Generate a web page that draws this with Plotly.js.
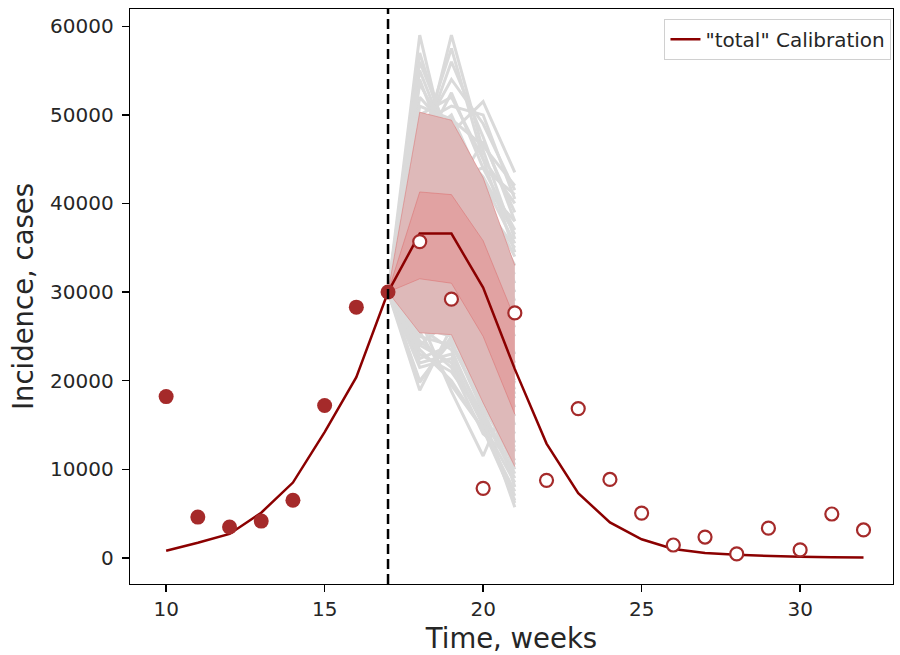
<!DOCTYPE html>
<html><head><meta charset="utf-8">
<script src="https://cdn.plot.ly/plotly-3.0.1.min.js"></script>
<style>html,body{margin:0;padding:0;background:#fff}</style>
</head><body><div id="chart" style="width:900px;height:655px"></div>
<script>
// Model ("total" calibration) curve
const modelWeeks = [10,11,12,13,14,15,16,17,18,19,20,21,22,23,24,25,26,27,28,29,30,31,32];
const modelValues = [800,1700,2700,5100,8500,14200,20400,30000,36600,36600,30500,21300,12900,7300,4000,2100,1000,560,340,200,120,80,50];

// Observed data used for calibration (filled markers)
const fittedWeeks = [10,11,12,13,14,15,16,17];
const fittedCases = [18200,4600,3480,4150,6500,17200,28300,30000];

// Observed data after the cutoff (open markers)
const futureWeeks = [18,19,20,21,22,23,24,25,26,27,28,29,30,31,32];
const futureCases = [35700,29200,7850,27650,8750,16850,8850,5050,1450,2350,450,3350,900,4950,3150];

// Forecast uncertainty bands
const forecastWeeks = [17,18,19,20,21];
const outerLow  = [30000,25400,25200,17500,10300];
const outerHigh = [30000,50300,49400,42900,33000];
const innerLow  = [30000,31500,31000,25000,16200];
const innerHigh = [30000,41300,41000,35800,27000];

// Sampled forecast trajectories (weeks 17..21)
const sampleRuns = [
  [30000,59000,44000,38000,30000],
  [30000,44500,59000,46000,36000],
  [30000,55000,46000,40000,33000],
  [30000,52000,48000,51500,43500],
  [30000,50000,52000,45000,40000],
  [30000,47000,50000,42000,38000],
  [30000,45000,43000,44000,41000],
  [30000,42000,45000,36000,32000],
  [30000,41000,40000,38000,28000],
  [30000,39000,42000,33000,26000],
  [30000,38000,37000,35000,30000],
  [30000,37000,38500,31000,23000],
  [30000,36500,36000,30500,21500],
  [30000,35500,34000,32000,25000],
  [30000,34000,35500,28000,19000],
  [30000,33000,32000,29000,22000],
  [30000,32000,33500,26000,17000],
  [30000,31000,30000,27000,20000],
  [30000,30000,31500,24000,15000],
  [30000,28500,28000,25000,18000],
  [30000,27000,29000,22000,12000],
  [30000,26000,25000,20000,14000],
  [30000,24000,27000,18000,10000],
  [30000,22000,23000,16000,9000],
  [30000,18900,26000,17000,11000],
  [30000,27000,18800,11500,20000],
  [30000,23000,21000,16000,5700],
  [30000,25000,24000,19000,8000],
  [30000,24000,22000,15000,7000],
  [30000,48500,41000,47000,39000],
  [30000,43000,47500,40000,35000],
  [30000,29000,26500,21000,13000],
  [30000,57000,45500,41000,34000],
  [30000,53500,47000,43000,36500],
  [30000,46000,56000,47500,38000],
  [30000,47500,54000,49000,41500],
  [30000,51000,49500,46500,42000],
  [30000,49000,51000,50000,40500],
  [30000,54000,44500,39500,31000],
  [30000,45500,52500,44000,37000],
  [30000,56000,47000,42500,35500],
  [30000,46500,57500,45000,34500],
  [30000,20000,24500,16500,9500],
  [30000,21500,22500,15000,8500],
  [30000,23500,20000,14500,6500],
  [30000,19800,25000,18500,10500],
  [30000,25500,19500,14500,7500],
  [30000,22500,24000,17500,12500],
  [30000,24500,21500,14000,11000],
  [30000,26000,23500,15500,6200],
  [30000,40000,39000,34000,27000],
  [30000,43500,44000,37000,29000],
  [30000,33500,29500,23000,16000],
  [30000,29500,33000,27500,18500]
];

const cutoffWeek = 17;

const darkRed = '#8b0000';
const pointRed = '#a52a2a';
const runGray = '#dadada';
const bandFill = 'rgba(232,110,110,0.30)';
const bandEdge = 'rgba(220,100,100,0.45)';

const traces = [];
sampleRuns.forEach(run => {
  traces.push({x: forecastWeeks, y: run, mode: 'lines', type: 'scatter',
    line: {color: runGray, width: 3}, showlegend: false, hoverinfo: 'skip'});
});
// dense core of the trajectories (under the bands)
traces.push({x: forecastWeeks, y: outerLow, mode: 'lines', type: 'scatter',
  line: {color: runGray, width: 0}, showlegend: false});
traces.push({x: forecastWeeks, y: outerHigh, mode: 'lines', type: 'scatter', fill: 'tonexty',
  fillcolor: runGray, line: {color: runGray, width: 0}, showlegend: false});

traces.push({x: forecastWeeks, y: outerLow, mode: 'lines', type: 'scatter',
  line: {color: bandEdge, width: 1}, showlegend: false});
traces.push({x: forecastWeeks, y: outerHigh, mode: 'lines', type: 'scatter', fill: 'tonexty',
  fillcolor: bandFill, line: {color: bandEdge, width: 1}, showlegend: false});
traces.push({x: forecastWeeks, y: innerLow, mode: 'lines', type: 'scatter',
  line: {color: bandEdge, width: 1}, showlegend: false});
traces.push({x: forecastWeeks, y: innerHigh, mode: 'lines', type: 'scatter', fill: 'tonexty',
  fillcolor: bandFill, line: {color: bandEdge, width: 1}, showlegend: false});
traces.push({x: modelWeeks, y: modelValues, mode: 'lines', type: 'scatter',
  name: '"total" Calibration', line: {color: darkRed, width: 2.5}, showlegend: true});
traces.push({x: fittedWeeks, y: fittedCases, mode: 'markers', type: 'scatter',
  marker: {color: pointRed, size: 15, line: {width: 0}}, showlegend: false});
traces.push({x: futureWeeks, y: futureCases, mode: 'markers', type: 'scatter',
  marker: {color: '#ffffff', size: 13, line: {color: pointRed, width: 2.2}}, showlegend: false});

const font = {family: 'DejaVu Sans, sans-serif', color: '#262626'};

const layout = {
  width: 900, height: 655,
  margin: {l: 130, r: 7, t: 9, b: 71},
  paper_bgcolor: '#ffffff', plot_bgcolor: '#ffffff',
  font: Object.assign({}, font, {size: 20}),
  showlegend: true,
  legend: {x: 0.998, xanchor: 'right', y: 0.983, yanchor: 'top',
    bgcolor: '#ffffff', bordercolor: '#d0d0d0', borderwidth: 1,
    font: Object.assign({}, font, {size: 20})},
  xaxis: {
    range: [8.86, 32.93], tickvals: [10,15,20,25,30], ticktext: ['10','15','20','25','30'],
    ticks: 'outside', ticklen: 7, tickwidth: 1.3, tickcolor: '#000',
    showline: true, mirror: true, linecolor: '#000', linewidth: 1.3,
    showgrid: false, zeroline: false, automargin: false,
    tickfont: Object.assign({}, font, {size: 20}),
    title: {text: 'Time, weeks', font: Object.assign({}, font, {size: 27.5}), standoff: 8}
  },
  yaxis: {
    range: [-2950, 61950], tickvals: [0,10000,20000,30000,40000,50000,60000],
    ticktext: ['0','10000','20000','30000','40000','50000','60000'],
    ticks: 'outside', ticklen: 7, tickwidth: 1.3, tickcolor: '#000',
    showline: true, mirror: true, linecolor: '#000', linewidth: 1.3,
    showgrid: false, zeroline: false, automargin: false, ticklabelstandoff: 4,
    tickfont: Object.assign({}, font, {size: 20}),
    title: {text: 'Incidence, cases', font: Object.assign({}, font, {size: 27.5}), standoff: 8}
  },
  shapes: [{type: 'line', xref: 'x', yref: 'paper', x0: cutoffWeek, x1: cutoffWeek, y0: 0, y1: 1,
    line: {color: '#000', width: 2.5, dash: '10px,5px'}}]
};

Plotly.newPlot('chart', traces, layout, {staticPlot: true, displayModeBar: false});
</script>
</body></html>
